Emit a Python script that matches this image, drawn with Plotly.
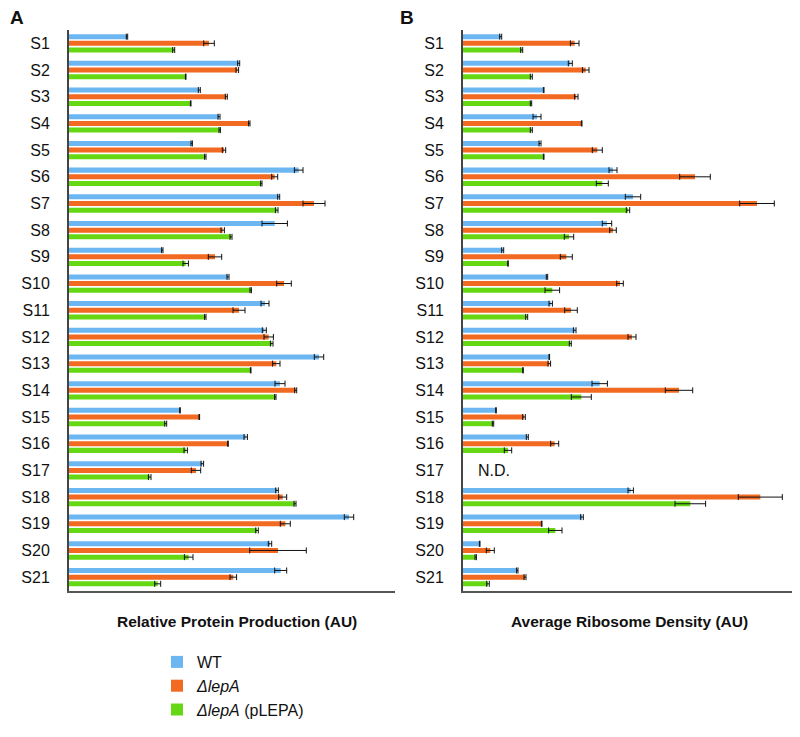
import plotly.graph_objects as go

strains = ["S%d" % i for i in range(1, 22)]

# panel A: relative protein production (AU)
prod_wt = [58.0, 169.7, 130.3, 150.0, 122.7, 229.7, 209.7, 205.7, 93.3, 159.0, 196.0,
           195.3, 250.0, 211.0, 111.0, 176.7, 133.3, 208.0, 280.0, 201.0, 211.7]
prod_wt_err = [0.7, 1.0, 1.0, 1.0, 0.7, 4.3, 1.0, 12.7, 0.7, 1.0, 4.0,
               2.0, 4.7, 5.0, 0.3, 1.7, 1.3, 1.3, 4.7, 1.7, 6.0]
prod_lepa = [140.0, 168.3, 157.3, 180.3, 155.0, 205.7, 245.0, 153.7, 146.0, 215.0, 170.0,
             199.7, 207.3, 226.7, 130.3, 159.0, 127.0, 213.7, 216.3, 209.0, 164.3]
prod_lepa_err = [5.3, 1.3, 1.0, 0.7, 1.7, 3.0, 11.0, 1.7, 6.7, 7.3, 6.0,
                 4.7, 3.7, 1.0, 0.3, 0.3, 4.7, 4.0, 5.0, 28.3, 3.3]
prod_plepa = [104.7, 116.7, 121.7, 150.7, 136.3, 192.3, 207.7, 162.0, 116.7, 181.7, 136.3,
              202.7, 181.7, 206.3, 96.7, 116.7, 80.7, 226.0, 188.0, 119.7, 88.7]
prod_plepa_err = [1.0, 0.3, 0.3, 0.7, 0.7, 0.7, 1.3, 1.0, 2.7, 0.7, 0.7,
                  1.3, 0.3, 0.7, 1.0, 1.7, 1.3, 1.0, 1.3, 4.3, 3.0]

# panel B: average ribosome density (AU), S17 not determined
dens_wt = [37.7, 107.3, 80.7, 74.0, 77.0, 150.0, 170.0, 144.0, 39.7, 84.0, 87.7,
           111.7, 86.3, 136.7, 33.0, 64.3, None, 167.7, 119.0, 16.7, 54.3]
dens_wt_err = [1.0, 2.0, 0.3, 4.0, 1.0, 4.0, 7.7, 4.7, 1.0, 0.7, 1.7,
               1.3, 0.3, 7.7, 0.3, 1.0, None, 2.7, 1.3, 0.3, 0.7]
dens_lepa = [111.7, 122.7, 113.3, 118.7, 134.3, 232.0, 294.0, 150.0, 103.3, 157.0, 108.0,
             169.0, 86.3, 216.0, 61.0, 91.7, None, 297.3, 78.7, 27.3, 62.0]
dens_lepa_err = [4.3, 3.3, 1.7, 0.3, 5.0, 15.3, 17.3, 3.3, 6.0, 3.3, 6.3,
                 4.0, 1.3, 13.7, 1.3, 4.0, None, 22.0, 0.3, 4.0, 1.0]
dens_plepa = [58.7, 68.3, 68.0, 68.3, 80.7, 139.3, 165.0, 106.0, 45.0, 89.3, 63.7,
              107.3, 60.0, 118.3, 30.0, 45.0, None, 227.3, 92.3, 12.7, 25.0]
dens_plepa_err = [1.0, 1.0, 0.7, 1.0, 0.3, 6.0, 1.7, 4.7, 0.3, 7.3, 1.0,
                  1.0, 0.3, 10.0, 0.7, 3.7, None, 15.3, 6.7, 0.7, 1.3]

names = ["WT", "<i>ΔlepA</i>", "<i>ΔlepA</i> (pLEPA)"]
colors = ["#6CB6F2", "#F26A21", "#66D813"]

# the page body adds an 8px margin, so the figure is a bit smaller and
# window pixel positions are converted to paper fractions here
OFF = 8
W, H = 800 - OFF, 737 - OFF


def px_x(x):
    return (x - OFF) / W


def px_y(y):
    return 1 - (y - OFF) / H


fig = go.Figure()

panels = [
    ("x", "y", [prod_wt, prod_lepa, prod_plepa], [prod_wt_err, prod_lepa_err, prod_plepa_err], True),
    ("x2", "y2", [dens_wt, dens_lepa, dens_plepa], [dens_wt_err, dens_lepa_err, dens_plepa_err], False),
]
for xa, ya, vals, errs, legend in panels:
    for name, color, v, e in zip(names, colors, vals, errs):
        fig.add_trace(go.Bar(
            y=strains, x=v, orientation="h", name=name,
            marker=dict(color=color, line=dict(width=0)),
            error_x=dict(type="data", array=e, color="#111111", thickness=1, width=3),
            xaxis=xa, yaxis=ya, showlegend=legend,
        ))

axis_font = dict(family="Liberation Sans, Arial", size=16, color="#111111")
ydom = [px_y(590.5), px_y(30)]

fig.update_layout(
    width=W, height=H,
    margin=dict(l=0, r=0, t=0, b=0),
    plot_bgcolor="white", paper_bgcolor="white",
    barmode="group", bargap=0.25, bargroupgap=0.25,
    font=axis_font,
    xaxis=dict(domain=[px_x(69), px_x(395)], range=[0, 326], showticklabels=False,
               showgrid=False, zeroline=False, showline=True, linecolor="#555555",
               linewidth=1.5, ticks="", automargin=False),
    yaxis=dict(domain=ydom, autorange="reversed", showgrid=False, zeroline=False,
               showline=True, linecolor="#444444", linewidth=2, ticks="",
               ticklabelstandoff=14, tickfont=axis_font, automargin=False),
    xaxis2=dict(domain=[px_x(463), 1.0], range=[0, 337], showticklabels=False,
                showgrid=False, zeroline=False, showline=True, linecolor="#555555",
                linewidth=1.5, ticks="", anchor="y2", automargin=False),
    yaxis2=dict(domain=ydom, autorange="reversed", showgrid=False, zeroline=False,
                showline=True, linecolor="#444444", linewidth=2, ticks="",
                ticklabelstandoff=14, tickfont=axis_font, anchor="x2", automargin=False),
    legend=dict(x=px_x(157), y=px_y(645), xanchor="left", yanchor="top",
                font=dict(family="Liberation Sans, Arial", size=16, color="#111111"),
                itemwidth=30, bgcolor="rgba(0,0,0,0)", tracegroupgap=0),
    showlegend=True,
)

title_font = dict(family="Liberation Sans, Arial", size=15.5, color="#111111")
fig.add_annotation(text="<b>Relative Protein Production (AU)</b>", xref="paper", yref="paper",
                   x=px_x(237), y=px_y(621), xanchor="center", yanchor="middle",
                   showarrow=False, font=title_font)
fig.add_annotation(text="<b>Average Ribosome Density (AU)</b>", xref="paper", yref="paper",
                   x=px_x(629), y=px_y(621), xanchor="center", yanchor="middle",
                   showarrow=False, font=title_font)
fig.add_annotation(text="<b>A</b>", xref="paper", yref="paper", x=0, y=px_y(17),
                   xanchor="left", yanchor="middle", showarrow=False,
                   font=dict(family="Liberation Sans, Arial", size=19, color="#111111"))
fig.add_annotation(text="<b>B</b>", xref="paper", yref="paper", x=px_x(398), y=px_y(17),
                   xanchor="left", yanchor="middle", showarrow=False,
                   font=dict(family="Liberation Sans, Arial", size=19, color="#111111"))
fig.add_annotation(text="N.D.", xref="x2", yref="y2", x=13, y="S17", xanchor="left",
                   showarrow=False, font=axis_font)

fig.write_html("out.html")
